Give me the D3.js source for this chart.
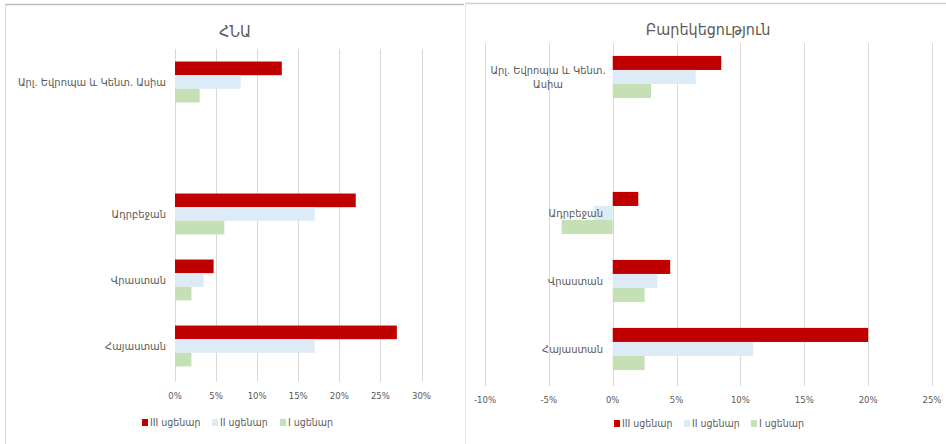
<!DOCTYPE html>
<html>
<head>
<meta charset="utf-8">
<script src="https://cdn.jsdelivr.net/npm/d3@7"></script>
<style>
  body { margin: 0; background: #fff; }
  svg text { font-family: "DejaVu Sans", sans-serif; font-stretch: condensed; fill: #595959; }
</style>
</head>
<body>
<div class="canva"></div>
<script>
// categories top to bottom, one blank slot as in the original
const categories = ["Արլ. Եվրոպա և Կենտ. Ասիա", "", "Ադրբեջան", "Վրաստան", "Հայաստան"];
const seriesNames = ["III սցենար", "II սցենար", "I սցենար"];
const seriesColors = ["#C00000", "#DDEBF7", "#C5E0B4"];

// ՀՆԱ (%)
const gdpIII = [13, null, 22, 4.7, 27];
const gdpII = [8, null, 17, 3.5, 17];
const gdpI = [3, null, 6, 2, 2];
const gdpTicks = [0, 5, 10, 15, 20, 25, 30];

// Բարեկեցություն (%)
const welIII = [8.5, null, 2, 4.5, 20];
const welII = [6.5, null, -1.5, 3.5, 11];
const welI = [3, null, -4, 2.5, 2.5];
const welTicks = [-10, -5, 0, 5, 10, 15, 20, 25];

const svg = d3.select(".canva").append("svg")
    .attr("width", 946)
    .attr("height", 444);

// panel frames
svg.append("line").attr("x1", 5).attr("x2", 464).attr("y1", 4.5).attr("y2", 4.5)
    .attr("stroke", "#BDBDBD").attr("stroke-width", 1.5);
svg.append("line").attr("x1", 5.5).attr("x2", 5.5).attr("y1", 4).attr("y2", 444)
    .attr("stroke", "#D9D9D9");
svg.append("line").attr("x1", 465).attr("x2", 946).attr("y1", 3.5).attr("y2", 3.5)
    .attr("stroke", "#CFCFCF").attr("stroke-width", 1.5);
svg.append("line").attr("x1", 465.5).attr("x2", 465.5).attr("y1", 3).attr("y2", 444)
    .attr("stroke", "#E6E6E6");

function drawPanel(cfg) {
    const g = svg.append("g");
    const seriesData = cfg.series;

    const x = d3.scaleLinear().domain(cfg.domain).range(cfg.xRange);
    const y = d3.scaleBand().domain(d3.range(categories.length)).range(cfg.yRange);
    const inner = d3.scaleBand().domain(d3.range(seriesNames.length))
        .range([y.bandwidth() * 0.19, y.bandwidth() * 0.81]);

    // gridlines
    g.selectAll(".grid")
        .data(cfg.ticks)
        .enter()
        .append("line")
        .attr("x1", d => Math.round(x(d / 100)) + 0.5)
        .attr("x2", d => Math.round(x(d / 100)) + 0.5)
        .attr("y1", cfg.yRange[0])
        .attr("y2", cfg.yRange[1] + 3)
        .attr("stroke", "#D9D9D9")
        .attr("stroke-width", 1);

    // tick labels
    g.selectAll(".tick-label")
        .data(cfg.ticks)
        .enter()
        .append("text")
        .attr("x", d => x(d / 100))
        .attr("y", cfg.tickY)
        .attr("text-anchor", "middle")
        .attr("font-size", "9.5px")
        .text(d => d + "%");

    // bars
    seriesData.forEach((vals, si) => {
        g.selectAll(".bar" + si)
            .data(vals.map((v, i) => ({ v, i })).filter(d => d.v !== null))
            .enter()
            .append("rect")
            .attr("x", d => x(Math.min(0, d.v / 100)))
            .attr("width", d => Math.abs(x(d.v / 100) - x(0)))
            .attr("y", d => y(d.i) + inner(si))
            .attr("height", inner.bandwidth())
            .attr("fill", seriesColors[si]);
    });

    // category labels
    categories.forEach((c, i) => {
        if (!c) return;
        const cy = y(i) + y.bandwidth() / 2;
        const lines = (cfg.wrap && cfg.wrap[i]) || [c];
        const t = g.append("text")
            .attr("font-size", "11px")
            .attr("text-anchor", lines.length > 1 ? "middle" : "end");
        lines.forEach((ln, k) => {
            t.append("tspan")
                .attr("x", lines.length > 1 ? cfg.wrapX : cfg.labelX)
                .attr("y", cy + 4 + (k - (lines.length - 1) / 2) * 14)
                .text(ln);
        });
    });

    // title
    g.append("text")
        .attr("x", cfg.titleX)
        .attr("y", cfg.titleY)
        .attr("text-anchor", "middle")
        .attr("font-size", "16px")
        .text(cfg.title);

    // legend
    const legend = g.append("g");
    seriesNames.forEach((name, si) => {
        const lx = cfg.legendX[si];
        legend.append("rect")
            .attr("x", lx)
            .attr("y", cfg.legendY - 4)
            .attr("width", 6)
            .attr("height", 7)
            .attr("fill", seriesColors[si]);
        legend.append("text")
            .attr("x", lx + 8)
            .attr("y", cfg.legendY + 3)
            .attr("font-size", "10.5px")
            .text(name);
    });
}

drawPanel({
    title: "ՀՆԱ",
    titleX: 235, titleY: 37,
    series: [gdpIII, gdpII, gdpI],
    domain: [0, 0.30],
    xRange: [175, 421.5],
    yRange: [49, 379],
    ticks: gdpTicks,
    tickY: 399,
    labelX: 166,
    legendX: [142, 212, 280],
    legendY: 423
});

drawPanel({
    title: "Բարեկեցություն",
    titleX: 708, titleY: 35,
    series: [welIII, welII, welI],
    domain: [-0.10, 0.25],
    xRange: [485, 932],
    yRange: [43, 383],
    ticks: welTicks,
    tickY: 403,
    labelX: 603,
    wrap: { 0: ["Արլ. Եվրոպա և Կենտ.", "Ասիա"] },
    wrapX: 548,
    legendX: [614, 684, 751],
    legendY: 424
});
</script>
</body>
</html>
